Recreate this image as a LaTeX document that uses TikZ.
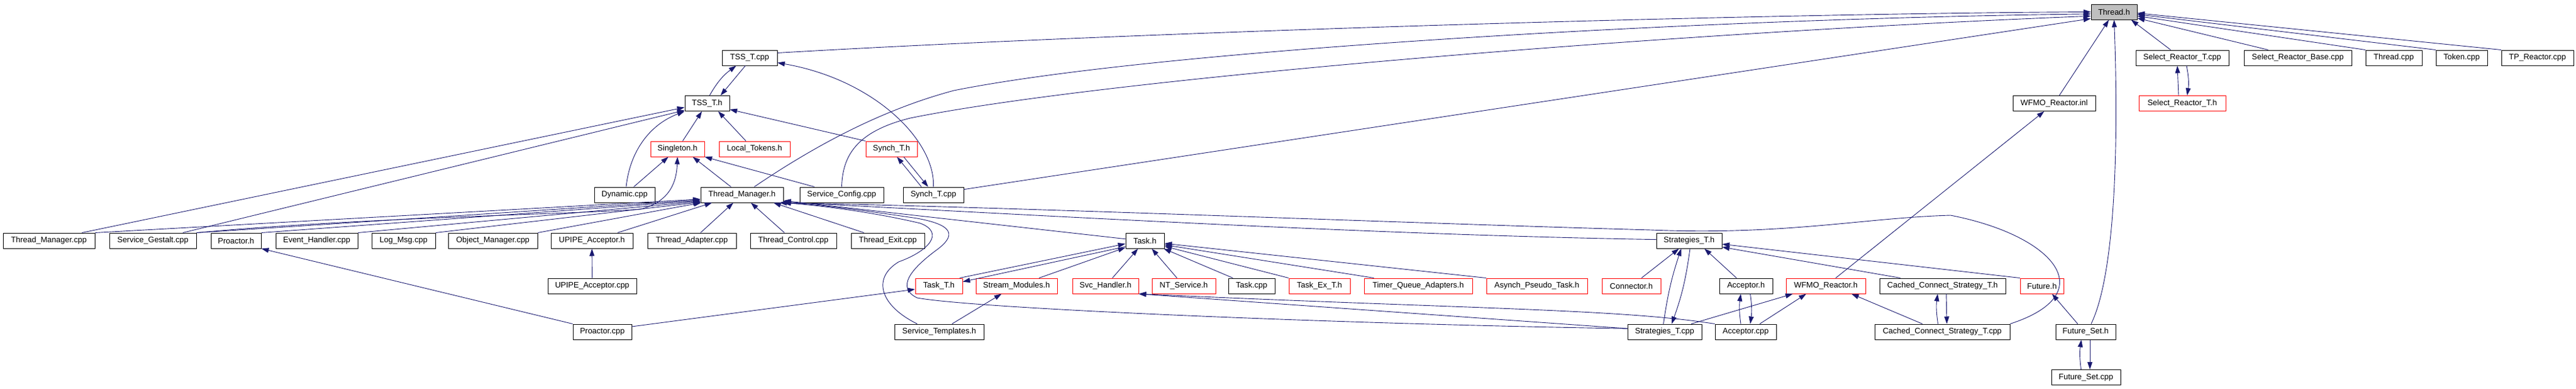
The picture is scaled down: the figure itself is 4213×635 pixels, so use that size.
\documentclass[tikz,border=0pt]{standalone}
\usepackage{fontspec}
\setmainfont{Liberation Sans}
\usetikzlibrary{arrows.meta}
\definecolor{edgeblue}{RGB}{25,25,112}
\definecolor{boxgray}{RGB}{191,191,191}
\begin{document}
\begin{tikzpicture}[x=1pt,y=1pt,
  file/.style={draw=black,line width=1pt,minimum height=25pt,inner sep=0pt,font=\fontsize{13}{15}\selectfont},
  redfile/.style={file,draw=red},
  mainfile/.style={file,fill=boxgray},
  edge/.style={draw=edgeblue,line width=0.9pt,-{Triangle[length=12pt,width=8pt]}}]
\useasboundingbox (0,0) rectangle (4213,-635);
\node[mainfile,minimum width=75pt] (th) at (3457.5,-19.5) {Thread.h};
\node[file,minimum width=90pt] (tsscpp) at (1226,-94.5) {TSS\_T.cpp};
\node[file,minimum width=152pt] (srtcpp) at (3569,-94.5) {Select\_Reactor\_T.cpp};
\node[file,minimum width=176pt] (srbase) at (3758,-94.5) {Select\_Reactor\_Base.cpp};
\node[file,minimum width=92pt] (threadcpp) at (3915,-94.5) {Thread.cpp};
\node[file,minimum width=84pt] (tokencpp) at (4026,-94.5) {Token.cpp};
\node[file,minimum width=118pt] (tpreactor) at (4150,-94.5) {TP\_Reactor.cpp};
\node[file,minimum width=73pt] (tssh) at (1156.5,-169) {TSS\_T.h};
\node[file,minimum width=135pt] (wfmoinl) at (3359.5,-169) {WFMO\_Reactor.inl};
\node[redfile,minimum width=142pt] (srth) at (3569,-169) {Select\_Reactor\_T.h};
\node[redfile,minimum width=88pt] (singleton) at (1108,-243.5) {Singleton.h};
\node[redfile,minimum width=116pt] (localtok) at (1234,-243.5) {Local\_Tokens.h};
\node[redfile,minimum width=84pt] (synchh) at (1458,-243.5) {Synch\_T.h};
\node[file,minimum width=99pt] (dynamic) at (1021.5,-318.5) {Dynamic.cpp};
\node[file,minimum width=135pt] (tmh) at (1213.5,-318.5) {Thread\_Manager.h};
\node[file,minimum width=137pt] (svccfg) at (1376.5,-318.5) {Service\_Config.cpp};
\node[file,minimum width=99pt] (synchcpp) at (1526.5,-318.5) {Synch\_T.cpp};
\node[file,minimum width=150pt] (tmcpp) at (80,-393.5) {Thread\_Manager.cpp};
\node[file,minimum width=142pt] (sgcpp) at (250,-393.5) {Service\_Gestalt.cpp};
\node[file,minimum width=82pt] (proactorh) at (386,-393.5) {Proactor.h};
\node[file,minimum width=134pt] (eventh) at (518,-393.5) {Event\_Handler.cpp};
\node[file,minimum width=104pt] (logmsg) at (660,-393.5) {Log\_Msg.cpp};
\node[file,minimum width=146pt] (objmgr) at (806,-393.5) {Object\_Manager.cpp};
\node[file,minimum width=134pt] (upipeh) at (968,-393.5) {UPIPE\_Acceptor.h};
\node[file,minimum width=145pt] (threadadapter) at (1131.5,-393.5) {Thread\_Adapter.cpp};
\node[file,minimum width=141pt] (threadcontrol) at (1297.5,-393.5) {Thread\_Control.cpp};
\node[file,minimum width=120pt] (threadexit) at (1452,-393.5) {Thread\_Exit.cpp};
\node[file,minimum width=63pt] (taskh) at (1872.5,-393.5) {Task.h};
\node[file,minimum width=107pt] (strath) at (2762.5,-393.5) {Strategies\_T.h};
\node[file,minimum width=145pt] (upipecpp) at (968.5,-467.5) {UPIPE\_Acceptor.cpp};
\node[redfile,minimum width=77pt] (taskth) at (1535.5,-467.5) {Task\_T.h};
\node[redfile,minimum width=133pt] (streammod) at (1662.5,-467.5) {Stream\_Modules.h};
\node[redfile,minimum width=108pt] (svch) at (1808,-467.5) {Svc\_Handler.h};
\node[redfile,minimum width=104pt] (ntservice) at (1936,-467.5) {NT\_Service.h};
\node[file,minimum width=76pt] (taskcpp) at (2047,-467.5) {Task.cpp};
\node[redfile,minimum width=100pt] (taskext) at (2158,-467.5) {Task\_Ex\_T.h};
\node[redfile,minimum width=177pt] (timerq) at (2319.5,-467.5) {Timer\_Queue\_Adapters.h};
\node[redfile,minimum width=165pt] (asynchpt) at (2513.5,-467.5) {Asynch\_Pseudo\_Task.h};
\node[redfile,minimum width=96pt] (connector) at (2668,-467.5) {Connector.h};
\node[file,minimum width=87pt] (acceptorh) at (2855.5,-467.5) {Acceptor.h};
\node[redfile,minimum width=130pt] (wfmoh) at (2986,-467.5) {WFMO\_Reactor.h};
\node[file,minimum width=206pt] (ccsh) at (3177,-467.5) {Cached\_Connect\_Strategy\_T.h};
\node[redfile,minimum width=71pt] (futureh) at (3339.5,-467.5) {Future.h};
\node[file,minimum width=96pt] (proactorcpp) at (985,-542.5) {Proactor.cpp};
\node[file,minimum width=146pt] (servtmpl) at (1536,-542.5) {Service\_Templates.h};
\node[file,minimum width=121pt] (stratcpp) at (2722.5,-542.5) {Strategies\_T.cpp};
\node[file,minimum width=100pt] (acceptorcpp) at (2855,-542.5) {Acceptor.cpp};
\node[file,minimum width=221pt] (ccscpp) at (3176.5,-542.5) {Cached\_Connect\_Strategy\_T.cpp};
\node[file,minimum width=98pt] (futureseth) at (3411,-542.5) {Future\_Set.h};
\node[file,minimum width=113pt] (futuresetcpp) at (3411.5,-617) {Future\_Set.cpp};
\draw[edge] (tsscpp.10) .. controls (1900,-50) and (2900,-22) .. (th.180);
\draw[edge] ([xshift=20pt]tmh.north) .. controls (1330,-240) and (1440,-180) .. (1560,-148) .. controls (1900,-80) and (2800,-30) .. (th.185);
\draw[edge] (svccfg.north) .. controls (1378,-255) and (1400,-215) .. (1489,-193) .. controls (1800,-130) and (2700,-55) .. (th.190);
\draw[edge] (synchcpp.10) -- (th.196);
\draw[edge] (wfmoinl) -- (th);
\draw[edge] ([xshift=-19pt]srtcpp.north) -- ([xshift=28pt]th.south);
\draw[edge] (srbase.165) -- (th.345);
\draw[edge] (threadcpp.north west) -- (th.350);
\draw[edge] (tokencpp.north west) -- (th.354);
\draw[edge] (tpreactor.north west) -- (th.357);
\draw[edge] ([xshift=9pt]futureseth.north) .. controls (3468,-430) and (3462,-150) .. (th.south);
\draw[edge] ([xshift=4pt]tssh.north) to[bend left=12] ([xshift=-22pt]tsscpp.south);
\draw[edge] (synchcpp.north) .. controls (1530,-230) and (1430,-130) .. (tsscpp.350);
\draw[edge] ([xshift=-7pt]tsscpp.south) -- ([xshift=22pt]tssh.north);
\draw[edge] (singleton) -- (tssh);
\draw[edge] ([xshift=-14pt]localtok.north) -- ([xshift=18pt]tssh.south);
\draw[edge] ([xshift=2.5pt]dynamic.north) .. controls (1030,-250) and (1060,-205) .. (tssh.south west);
\draw[edge] (synchh.north west) -- (tssh.345);
\draw[edge] ([xshift=54pt]tmcpp.north) -- (tssh.190);
\draw[edge] ([xshift=49pt]sgcpp.north) -- (tssh.197);
\draw[edge] (dynamic) -- (singleton);
\draw[edge] (sgcpp.north east) .. controls (600,-355) and (950,-350) .. (1048,-342) .. controls (1085,-332) and (1106,-310) .. (singleton.south);
\draw[edge] ([xshift=-18pt]tmh.north) -- ([xshift=25pt]singleton.south);
\draw[edge] ([xshift=-44.5pt]svccfg.north) -- (singleton.south east);
\draw[edge] ([xshift=-19.5pt]synchcpp.north) -- ([xshift=9pt]synchh.south);
\draw[edge] ([xshift=20pt]synchh.south) -- ([xshift=-8.5pt]synchcpp.north);
\draw[edge] ([xshift=-6pt]srth.north) -- ([xshift=-8pt]srtcpp.south);
\draw[edge] ([xshift=7pt]srtcpp.south) to[bend left=10] ([xshift=8pt]srth.north);
\draw[edge] (wfmoh) -- (wfmoinl);
\draw[edge] (tmcpp.north east) -- (tmh.186);
\draw[edge] (sgcpp.north east) -- (tmh.187);
\draw[edge] (proactorh.north east) -- (tmh.188);
\draw[edge] (eventh.north east) -- (tmh.189);
\draw[edge] (logmsg.north east) -- (tmh.190);
\draw[edge] (objmgr.north east) -- (tmh.191);
\draw[edge] ([xshift=42pt]upipeh.north) -- ([xshift=-49pt]tmh.south);
\draw[edge] (threadadapter) -- (tmh);
\draw[edge] (threadcontrol) -- (tmh);
\draw[edge] ([xshift=-39pt]threadexit.north) -- ([xshift=51.5pt]tmh.south);
\draw[edge] (taskh.175) -- (tmh.352);
\draw[edge] (strath.178) .. controls (2250,-384) and (1700,-352) .. (tmh.350);
\draw[edge] (ccscpp.north east) .. controls (3440,-480) and (3360,-385) .. (3190,-352) .. controls (3050,-356) and (2920,-385) .. (2700,-376) .. controls (2300,-365) and (1700,-340) .. (tmh.349);
\draw[edge] ([xshift=-36pt]servtmpl.north) .. controls (1440,-500) and (1425,-455) .. (1470,-428) .. controls (1520,-410) and (1545,-380) .. (1505,-365) .. controls (1420,-345) and (1330,-335) .. (tmh.south east);
\draw[edge] (stratcpp.175) .. controls (2200,-530) and (1600,-505) .. (1500,-487) .. controls (1465,-470) and (1490,-440) .. (1530,-410) .. controls (1565,-385) and (1560,-368) .. (1500,-357) .. controls (1420,-345) and (1330,-333) .. (tmh.348);
\draw[edge] ([xshift=-5pt]taskth.north east) -- (taskh.189);
\draw[edge] (taskh.197) -- (taskth.10);
\draw[edge] (streammod) -- (taskh);
\draw[edge] (svch) -- (taskh);
\draw[edge] (ntservice) -- (taskh);
\draw[edge] (taskcpp) -- (taskh);
\draw[edge] (taskext.north west) -- (taskh.344);
\draw[edge] ([xshift=-72.5pt]timerq.north) -- (taskh.348);
\draw[edge] (asynchpt.north west) -- (taskh.352);
\draw[edge] (proactorcpp.10) -- (taskth.188);
\draw[edge] (proactorcpp.north west) -- (proactorh.south east);
\draw[edge] (upipecpp) -- (upipeh);
\draw[edge] ([xshift=21pt]servtmpl.north) -- ([xshift=-24.5pt]streammod.south);
\draw[edge] (stratcpp.175) -- (svch.south east);
\draw[edge] (acceptorcpp.north west) .. controls (2650,-505) and (2400,-505) .. (svch.south east);
\draw[edge] (connector) -- (strath);
\draw[edge] ([xshift=-2pt]stratcpp.north) to[bend left=5] ([xshift=-13pt]strath.south);
\draw[edge] ([xshift=1.5pt]strath.south) to[bend left=6] ([xshift=11.5pt]stratcpp.north);
\draw[edge] ([xshift=-15.5pt]acceptorh.north) -- ([xshift=25pt]strath.south);
\draw[edge] ([xshift=-69pt]ccsh.north) -- (strath.349);
\draw[edge] (futureh.north west) -- (strath.354);
\draw[edge] ([xshift=-8pt]acceptorcpp.north) to[bend left=8] ([xshift=-8.5pt]acceptorh.south);
\draw[edge] ([xshift=7pt]acceptorh.south) to[bend left=8] ([xshift=7.5pt]acceptorcpp.north);
\draw[edge] ([xshift=43.5pt]stratcpp.north) -- ([xshift=-54pt]wfmoh.south);
\draw[edge] ([xshift=23pt]acceptorcpp.north) -- ([xshift=-32pt]wfmoh.south);
\draw[edge] ([xshift=-32.5pt]ccscpp.north) -- ([xshift=42pt]wfmoh.south);
\draw[edge] ([xshift=-7pt]ccscpp.north) to[bend left=8] ([xshift=-8pt]ccsh.south);
\draw[edge] ([xshift=6pt]ccsh.south) -- ([xshift=7.5pt]ccscpp.north);
\draw[edge] ([xshift=-13pt]futureseth.north) -- ([xshift=16.5pt]futureh.south);
\draw[edge] ([xshift=-8pt]futuresetcpp.north) to[bend left=8] ([xshift=-7pt]futureseth.south);
\draw[edge] ([xshift=7pt]futureseth.south) -- ([xshift=6.5pt]futuresetcpp.north);
\end{tikzpicture}
\end{document}
